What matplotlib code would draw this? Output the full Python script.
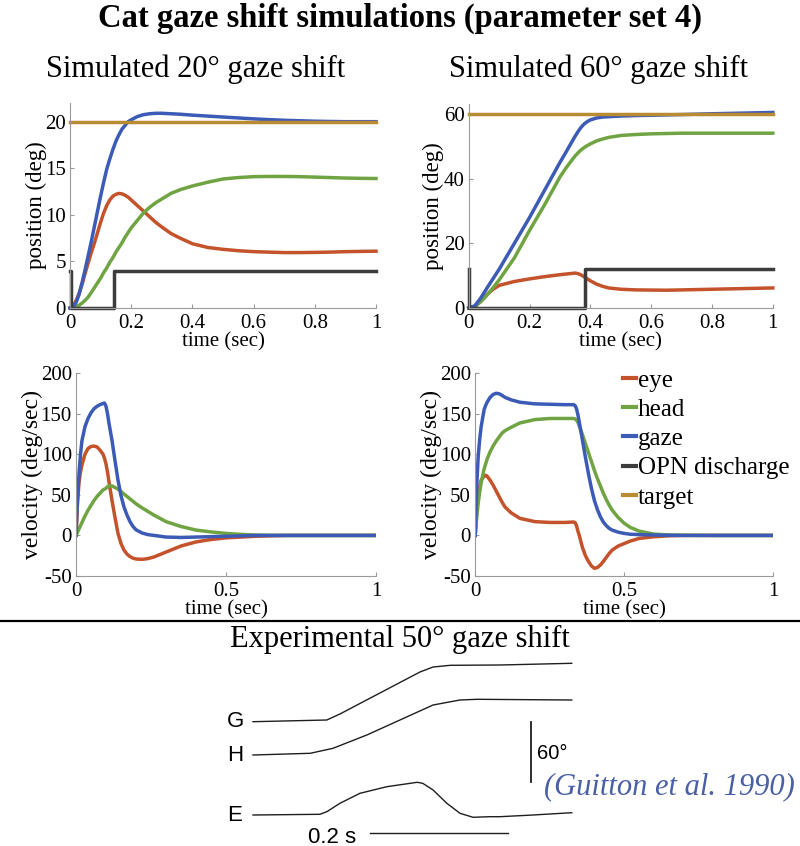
import matplotlib
matplotlib.use("Agg")
import matplotlib.pyplot as plt
from matplotlib.lines import Line2D

plt.rcParams['font.family'] = ['Liberation Serif', 'DejaVu Serif']
plt.rcParams['axes.unicode_minus'] = False

# colours
c_eye = "#c4532c"
c_head = "#70a443"
c_gaze = "#3b5bb6"
c_opn = "#3c3c3c"
c_target = "#b98b33"

# ---- simulated 20 deg gaze shift: position ----
t20 = [0, 0.01, 0.02, 0.03, 0.04, 0.05, 0.06, 0.07, 0.08, 0.09, 0.10, 0.11, 0.12, 0.13, 0.14, 0.15, 0.16,
       0.17, 0.18, 0.19, 0.20, 0.22, 0.24, 0.26, 0.28, 0.30, 0.33, 0.36, 0.40, 0.45, 0.50, 0.55, 0.60, 0.65,
       0.70, 0.75, 0.80, 0.85, 0.90, 0.95, 1.0]
gaze20 = [0, 0.1, 0.6, 1.5, 2.8, 4.2, 5.7, 7.2, 8.8, 10.4, 12.0, 13.5, 14.9, 16.0, 17.0, 17.9, 18.6,
          19.2, 19.6, 20.0, 20.2, 20.55, 20.75, 20.85, 20.9, 20.9, 20.85, 20.8, 20.7, 20.6, 20.5, 20.4, 20.3, 20.22,
          20.15, 20.1, 20.05, 20.02, 20.0, 20.0, 20.0]
eye20 = [0, 0.2, 0.8, 1.6, 2.6, 3.8, 4.9, 6.0, 7.0, 8.1, 9.2, 10.2, 11.0, 11.6, 12.0, 12.2, 12.3,
         12.25, 12.1, 11.9, 11.6, 11.0, 10.4, 9.8, 9.2, 8.7, 8.0, 7.5, 6.9, 6.5, 6.3, 6.15, 6.05, 6.0,
         5.95, 5.95, 5.97, 6.0, 6.05, 6.08, 6.1]
head20 = [0, 0.05, 0.15, 0.3, 0.55, 0.85, 1.2, 1.7, 2.2, 2.7, 3.2, 3.8, 4.3, 4.9, 5.4, 6.0, 6.5,
          7.0, 7.6, 8.1, 8.6, 9.4, 10.2, 10.8, 11.3, 11.7, 12.3, 12.7, 13.1, 13.5, 13.85, 14.0, 14.1, 14.12,
          14.12, 14.1, 14.05, 14.0, 13.95, 13.92, 13.9]
opn20_t = [0, 0.002, 0.144, 1.0]
opn20 = [4, 0, 4, 4]
target20 = [20, 20]

# ---- simulated 60 deg gaze shift: position ----
t60 = [0, 0.02, 0.04, 0.06, 0.08, 0.10, 0.15, 0.20, 0.25, 0.30, 0.32, 0.34, 0.35, 0.36, 0.37, 0.38, 0.39,
       0.40, 0.42, 0.44, 0.46, 0.50, 0.55, 0.60, 0.65, 0.70, 0.80, 0.90, 1.0]
gaze60 = [0, 0.7, 3.2, 6.2, 9.1, 12.0, 20.0, 28.0, 36.5, 45.0, 48.2, 51.5, 53.1, 54.6, 55.9, 56.9, 57.6,
          58.1, 58.7, 59.0, 59.1, 59.3, 59.45, 59.55, 59.65, 59.75, 60.0, 60.2, 60.4]
head60 = [0, 0.5, 2.0, 4.0, 6.3, 8.7, 15.5, 24.0, 32.0, 40.5, 43.3, 45.8, 47.0, 48.0, 48.9, 49.6, 50.2,
          50.7, 51.6, 52.2, 52.7, 53.3, 53.6, 53.8, 53.9, 54.0, 54.0, 54.0, 54.0]
eye60 = [0, 0.3, 2.2, 4.2, 5.8, 7.0, 8.2, 9.0, 9.7, 10.3, 10.5, 10.7, 10.8, 10.6, 10.2, 9.6, 9.0,
         8.4, 7.4, 6.7, 6.2, 5.8, 5.6, 5.55, 5.5, 5.6, 5.8, 6.0, 6.2]
opn60_t = [0, 0.002, 0.383, 1.0]
opn60 = [12, 0, 12, 12]
target60 = [60, 60]

# ---- velocity, 20 deg ----
tv20 = [0, 0.005, 0.01, 0.015, 0.02, 0.03, 0.04, 0.05, 0.06, 0.07, 0.08, 0.09, 0.095, 0.10, 0.105, 0.11,
        0.12, 0.13, 0.14, 0.15, 0.16, 0.17, 0.18, 0.19, 0.20, 0.22, 0.24, 0.26, 0.28, 0.30, 0.35, 0.40,
        0.45, 0.50, 0.55, 0.60, 0.65, 0.70, 0.80, 0.90, 1.0]
gazev20 = [0, 45, 76, 100, 117, 134, 144, 151, 156, 159, 161, 162.5, 163, 159, 150, 138,
           117, 92, 68, 49, 35, 25, 17, 11, 7, 3, 1, 0, -1, -2, -2.5, -2,
           -1.5, -1, -0.5, 0, 0, 0, 0, 0, 0]
eyev20 = [0, 40, 65, 78, 87, 100, 107, 109.5, 110, 109, 105, 100, 95, 88, 78, 66,
          43, 22, 2.5, -10, -18, -23, -26, -28, -29, -29.5, -28.5, -26.5, -23.5, -20.5, -13, -8,
          -5, -3, -2, -1, -0.5, 0, 0, 0, 0]
headv20 = [0, 4, 8, 12, 16, 24, 31, 37, 43, 48, 52, 56, 57, 58, 60, 61,
           61, 59, 57, 54, 51, 48, 45, 42, 39, 34, 29.5, 25, 21, 17, 11, 6.6,
           4.3, 2.5, 1.3, 0.5, 0.2, 0, 0, 0, 0]

# ---- velocity, 60 deg ----
tv60 = [0, 0.005, 0.01, 0.015, 0.02, 0.03, 0.035, 0.04, 0.05, 0.06, 0.07, 0.08, 0.09, 0.10, 0.12, 0.15,
        0.20, 0.25, 0.30, 0.33, 0.335, 0.34, 0.345, 0.35, 0.36, 0.37, 0.38, 0.39, 0.40, 0.41, 0.42, 0.43,
        0.44, 0.45, 0.46, 0.48, 0.50, 0.52, 0.55, 0.60, 0.65, 0.70, 0.80, 1.0]
gazev60 = [0, 60, 97, 118, 134, 155, 160, 164, 170, 173.5, 175, 174.5, 172.5, 170, 167, 164,
           162, 161.5, 161, 161, 160, 156, 148, 138, 117, 96, 76, 58, 43, 32, 23, 16.5,
           12, 8.6, 6.5, 4, 2.5, 1.5, 1.0, 0.5, 0.2, 0, 0, 0]
headv60 = [0, 22, 40, 53, 65, 82, 88, 94, 103, 110, 116, 121, 126, 129, 133, 138.5,
           142.6, 144, 144, 144, 143.5, 142, 139, 134, 124, 113, 102, 91, 80, 70, 61, 52,
           44, 37, 31, 22, 15, 10, 5.3, 1.6, 0.6, 0.2, 0, 0]
eyev60 = [0, 28, 47, 60, 68, 73, 74, 73, 68, 62, 55, 48, 41, 35, 28, 21,
          17, 16, 16, 16.5, 16, 12, 5, -1, -15, -25, -32, -37.5, -40.5, -39.5, -36.5, -32,
          -27, -22, -18, -13, -10, -7, -3.7, -1.6, -0.5, 0, 0, 0]

# ---- experimental 50 deg gaze shift (Guitton et al. 1990), time in s, angle in deg ----
exp_G_t = [0, 0.107, 0.126, 0.184, 0.242, 0.261, 0.286, 0.358, 0.462]
exp_G = [0, 1.7, 7.7, 28.7, 49.7, 54.7, 56.4, 56.7, 58.4]
exp_H_t = [0, 0.083, 0.116, 0.165, 0.213, 0.261, 0.300, 0.325, 0.462]
exp_H = [0, 1.7, 6.7, 20, 35, 50, 55, 55.7, 55]
exp_E_t = [0, 0.097, 0.107, 0.126, 0.155, 0.194, 0.238, 0.246, 0.261, 0.281, 0.300, 0.319, 0.343, 0.358, 0.406, 0.462]
exp_E = [0, 0.7, 3.3, 11.7, 21.7, 28.3, 32.7, 31.7, 25, 11.7, 1.7, -2.3, -1.7, -1.7, 0, 2.3]
exp_names = ["G", "H", "E"]
exp_offsets = [124.3, 91, 31]

labels = ["eye", "head", "gaze", "OPN discharge", "target"]
xt_pos = ["0", "0.2", "0.4", "0.6", "0.8", "1"]
xt_vel = ["0", "0.5", "1"]

fig = plt.figure(figsize=(8, 8.46), dpi=100)

def style(ax):
    for s in ["top", "right"]:
        ax.spines[s].set_visible(False)
    for s in ["left", "bottom"]:
        ax.spines[s].set_color("#9a9a9a")
        ax.spines[s].set_linewidth(0.8)
    ax.tick_params(direction="in", length=3, color="#9a9a9a", labelsize=15)
    ax.tick_params(axis="x", pad=4.5)
    ax.tick_params(axis="y", pad=3)
    ax.set_xlim(0, 1)

lw = 2.5

# panel 1
ax1 = fig.add_axes([0.0875, 0.6359, 0.3825, 0.2423])
ax1.plot(t20, eye20, color=c_eye, lw=lw, clip_on=False)
ax1.plot(t20, head20, color=c_head, lw=lw, clip_on=False)
ax1.plot(t20, gaze20, color=c_gaze, lw=lw, clip_on=False)
ax1.plot(opn20_t, opn20, color=c_opn, lw=lw, drawstyle="steps-post", clip_on=False)
ax1.plot([0, 1], target20, color=c_target, lw=lw, clip_on=False)
style(ax1)
ax1.set_ylim(0, 22)
ax1.set_yticks([0, 5, 10, 15, 20])
ax1.set_xticks([0, 0.2, 0.4, 0.6, 0.8, 1])
ax1.set_xticklabels(xt_pos)
ax1.set_ylabel("position (deg)", fontsize=16.5)
ax1.yaxis.set_label_coords(-0.075, 0.5)
ax1.set_xlabel("time (sec)", fontsize=15, labelpad=-1)

# panel 2
ax2 = fig.add_axes([0.586, 0.6359, 0.38, 0.2411])
ax2.plot(t60, eye60, color=c_eye, lw=lw, clip_on=False)
ax2.plot(t60, head60, color=c_head, lw=lw, clip_on=False)
ax2.plot(t60, gaze60, color=c_gaze, lw=lw, clip_on=False)
ax2.plot(opn60_t, opn60, color=c_opn, lw=lw, drawstyle="steps-post", clip_on=False)
ax2.plot([0, 1], target60, color=c_target, lw=lw, clip_on=False)
style(ax2)
ax2.set_ylim(0, 63)
ax2.set_yticks([0, 20, 40, 60])
ax2.set_xticks([0, 0.2, 0.4, 0.6, 0.8, 1])
ax2.set_xticklabels(xt_pos)
ax2.set_ylabel("position (deg)", fontsize=16.5)
ax2.yaxis.set_label_coords(-0.083, 0.5)
ax2.set_xlabel("time (sec)", fontsize=15, labelpad=-1)

# panel 3
ax3 = fig.add_axes([0.095, 0.3191, 0.375, 0.240])
ax3.plot(tv20, eyev20, color=c_eye, lw=lw)
ax3.plot(tv20, headv20, color=c_head, lw=lw)
ax3.plot(tv20, gazev20, color=c_gaze, lw=lw)
style(ax3)
ax3.set_ylim(-50, 200)
ax3.set_yticks([-50, 0, 50, 100, 150, 200])
ax3.set_xticks([0, 0.5, 1])
ax3.set_xticklabels(xt_vel)
ax3.set_ylabel("velocity (deg/sec)", fontsize=17)
ax3.yaxis.set_label_coords(-0.11, 0.5)
ax3.set_xlabel("time (sec)", fontsize=15, labelpad=-1)

# panel 4
ax4 = fig.add_axes([0.594, 0.3191, 0.3725, 0.240])
ax4.plot(tv60, eyev60, color=c_eye, lw=lw)
ax4.plot(tv60, headv60, color=c_head, lw=lw)
ax4.plot(tv60, gazev60, color=c_gaze, lw=lw)
style(ax4)
ax4.set_ylim(-50, 200)
ax4.set_yticks([-50, 0, 50, 100, 150, 200])
ax4.set_xticks([0, 0.5, 1])
ax4.set_xticklabels(xt_vel)
ax4.set_ylabel("velocity (deg/sec)", fontsize=17)
ax4.yaxis.set_label_coords(-0.111, 0.5)
ax4.set_xlabel("time (sec)", fontsize=15, labelpad=-1)

handles = [Line2D([], [], color=c, lw=3) for c in [c_eye, c_head, c_gaze, c_opn, c_target]]
fig.legend(handles, labels, loc="upper left", bbox_to_anchor=(0.779, 0.5638), frameon=False,
           fontsize=18, handlelength=0.5, handletextpad=0.08, labelspacing=0.27, borderpad=0,
           borderaxespad=0)

# titles
fig.text(0.5, 0.9787, "Cat gaze shift simulations (parameter set 4)", ha="center", va="center",
         fontsize=23.5, fontweight="bold")
fig.text(0.245, 0.918, "Simulated 20° gaze shift", ha="center", va="center", fontsize=22)
fig.text(0.748, 0.918, "Simulated 60° gaze shift", ha="center", va="center", fontsize=22)

# separator
fig.add_artist(Line2D([0, 1], [0.266, 0.266], color="black", lw=1.6))
fig.text(0.5, 1 - 639 / 846, "Experimental 50° gaze shift", ha="center", va="center", fontsize=22)

# experimental traces
ax5 = fig.add_axes([0.25, 0.0, 0.75, 221 / 846])
ax5.set_axis_off()
ax5.set_xlim(-0.0768, 0.7928)
ax5.set_ylim(0, 221)
for name, ts, ys, off in zip(exp_names, [exp_G_t, exp_H_t, exp_E_t], [exp_G, exp_H, exp_E], exp_offsets):
    ax5.plot(ts, [y + off for y in ys], color="#1e1e1e", lw=1.0)
    ax5.text(-0.026, off, name, ha="center", va="center", fontsize=16, family="Liberation Sans")
ax5.plot([0.1696, 0.3696], [13, 13], color="#1e1e1e", lw=1.0)
ax5.text(0.114, 9, "0.2 s", ha="center", va="center", fontsize=16, family="Liberation Sans")
ax5.plot([0.403, 0.403], [64, 124], color="#1e1e1e", lw=1.3)
ax5.text(0.4116, 93, "60°", ha="left", va="center", fontsize=14.5, family="Liberation Sans")
ax5.text(0.7855, 59, "(Guitton et al. 1990)", ha="right", va="center", fontsize=22,
         style="italic", color="#4a60a6")

fig.savefig("out.png", dpi=100)
